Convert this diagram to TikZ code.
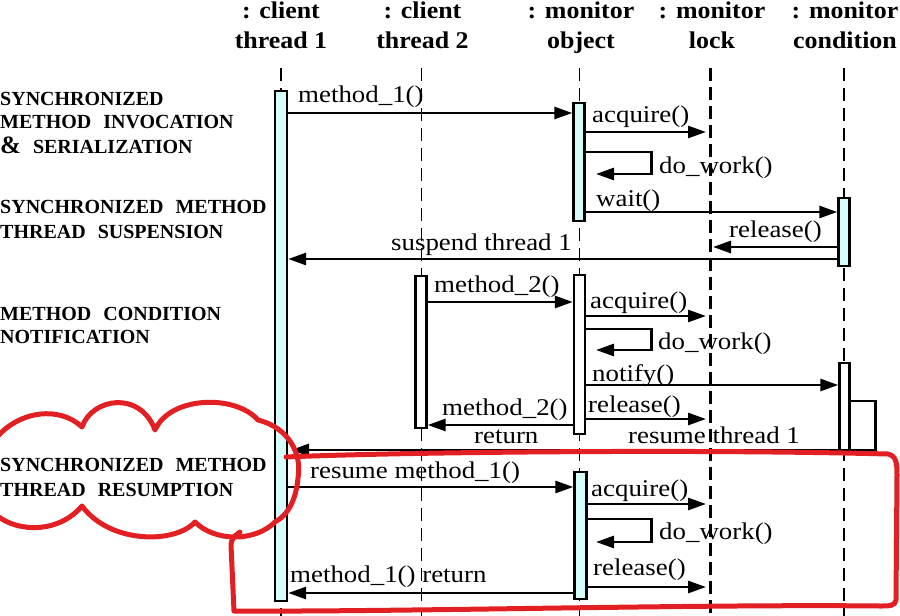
\documentclass[tikz,border=0pt]{standalone}
\usepackage{fontspec}
\setmainfont{Liberation Serif}
\newfontfamily\msgfont{Liberation Serif}[FakeStretch=1.12]
\newfontfamily\hdrfont{Liberation Serif}[FakeStretch=1.08]
\usepackage{tikz}
\usetikzlibrary{arrows.meta}

\definecolor{actcyan}{RGB}{214,252,252}
\definecolor{penred}{RGB}{226,32,36}
\newcommand\wsp{\hspace{12pt}}

\tikzset{
  hdr/.style={font=\hdrfont\bfseries\fontsize{24}{28}\selectfont, anchor=base, inner sep=0pt},
  lbl/.style={font=\bfseries\fontsize{20}{24}\selectfont, anchor=base west, inner sep=0pt},
  msglbl/.style={font=\msgfont\fontsize{24}{28}\selectfont, anchor=base west, inner sep=0pt},
  life/.style={line width=1.5pt, dash pattern=on 13pt off 7pt},
  lifebold/.style={line width=3pt, dash pattern=on 13pt off 6pt},
  act/.style={draw, line width=2.4pt, fill=actcyan, inner sep=0pt, anchor=north},
  actw/.style={act, fill=white},
  msg/.style={line width=2.8pt, -{Triangle[length=18pt,width=12pt]}},
  pen/.style={penred, line width=5pt, line cap=round, line join=round},
}

\begin{document}
\begin{tikzpicture}[x=1pt,y=-1pt]
  \useasboundingbox (0,0) rectangle (900,616);

  \foreach \n/\x/\top/\bot in {t1/281/client/thread 1, t2/422.5/client/thread 2,
      obj/581/monitor/object, lock/712/monitor/lock, cond/845/monitor/condition} {
    \node[hdr] (h\n) at (\x,18.5) {: \top};
    \node[hdr] (h\n b) at (\x,48) {\bot};
  }

  \node[lbl] (l1a) at (0,105) {SYNCHRONIZED};
  \node[lbl] (l1b) at (0,128.5) {METHOD\wsp INVOCATION};
  \node[lbl] (l1c) at (0,153.5) {{\fontsize{25}{24}\selectfont\&}\wsp SERIALIZATION};
  \node[lbl] (l2a) at (0,213.5) {SYNCHRONIZED\wsp METHOD};
  \node[lbl] (l2b) at (0,238.5) {THREAD\wsp SUSPENSION};
  \node[lbl] (l3a) at (0,320) {METHOD\wsp CONDITION};
  \node[lbl] (l3b) at (0,343.5) {NOTIFICATION};
  \node[lbl] (l4a) at (0,471) {SYNCHRONIZED\wsp METHOD};
  \node[lbl] (l4b) at (0,496) {THREAD\wsp RESUMPTION};

  \foreach \n/\x in {t1/281, t2/421.5, obj/579.5, cond/844}
    \draw[life] (\x,68) coordinate (ll\n) -- (\x,616);
  \draw[lifebold] (710.5,68) coordinate (lllock) -- (710.5,616);

  \coordinate (lk) at (706,0);
  \coordinate (lkr) at (713,0);
  \coordinate (wk) at (596,0);
  \coordinate (rt) at (291,0);

  \node[act, minimum width=12pt, minimum height=510pt] (t1a) at (281,90) {};
  \node[act, minimum width=11pt, minimum height=118pt] (obja) at (579,102) {};
  \node[act, minimum width=11pt, minimum height=68pt] (conda) at (844,197) {};
  \node[actw, minimum width=11pt, minimum height=152pt] (t2a) at (421,275) {};
  \node[actw, minimum width=11pt, minimum height=159pt] (objb) at (579.5,274) {};
  \node[actw, minimum width=10pt, minimum height=88pt] (condb) at (844.5,362) {};
  \node[act, minimum width=12pt, minimum height=127pt] (objc) at (580.5,471) {};

  \draw[msg] (t1a.east |- 0,113) -- (obja.west |- 0,113);
  \node[msglbl] (m1) at (298,102) {method\_1()};
  \draw[msg] (obja.east |- 0,132) -- (lk |- 0,132);
  \node[msglbl] (acq1) at (592,122) {acquire()};
  \draw[msg] (obja.east |- 0,152) -- ++(66,0) -- ++(0,22) -- (wk |- 0,174);
  \node[msglbl] (wrk1) at (659,173) {do\_work()};
  \draw[msg] (obja.east |- 0,212) -- (conda.west |- 0,212);
  \node[msglbl] (wt) at (596,206) {wait()};
  \draw[msg] (conda.west |- 0,247) -- (lkr |- 0,247);
  \node[msglbl] (rel1) at (729,237) {release()};
  \draw[msg] (conda.west |- 0,259) -- (t1a.east |- 0,259);
  \node[msglbl, anchor=base east] (susp) at (572,250) {suspend thread 1};

  \draw[msg] (t2a.east |- 0,302) -- (objb.west |- 0,302);
  \node[msglbl] (m2) at (434,292) {method\_2()};
  \draw[msg] (objb.east |- 0,316) -- (lk |- 0,316);
  \node[msglbl] (acq2) at (590,308) {acquire()};
  \draw[msg] (objb.east |- 0,329) -- ++(65.5,0) -- ++(0,21) -- (wk |- 0,350);
  \node[msglbl] (wrk2) at (658,349) {do\_work()};
  \draw[msg] (objb.east |- 0,385) -- (condb.west |- 0,385);
  \node[msglbl] (ntf) at (592,381) {notify()};
  \draw[msg] (objb.east |- 0,419) -- (lk |- 0,419);
  \node[msglbl] (rel2) at (588,412.5) {release()};
  \draw[msg] (objb.west |- 0,425) -- (t2a.east |- 0,425);
  \node[msglbl] (m2r) at (442,415) {method\_2()};
  \node[msglbl] (m2rb) at (474,443) {return};
  \draw[msg] (condb.east |- 0,401) -- ++(25,0) -- ++(0,49) -- (rt |- 0,450);
  \node[msglbl] (rsm) at (628,443) {resume thread 1};

  \draw[msg] (t1a.east |- 0,487) -- (objc.west |- 0,487);
  \node[msglbl] (m1b) at (310,478) {resume method\_1()};
  \draw[msg] (objc.east |- 0,504) -- (lk |- 0,504);
  \node[msglbl] (acq3) at (591,496) {acquire()};
  \draw[msg] (objc.east |- 0,519) -- ++(63.5,0) -- ++(0,23) -- (wk |- 0,542);
  \node[msglbl] (wrk3) at (659,539) {do\_work()};
  \draw[msg] (objc.east |- 0,587) -- (lk |- 0,587);
  \node[msglbl] (rel3) at (593,575) {release()};
  \draw[msg] (objc.west |- 0,593) -- (t1a.east |- 0,593);
  \node[msglbl] (m1r) at (290,582) {method\_1() return};

  \draw[pen] (-4,438) .. controls (20,410) and (60,406) .. (82,427)
    .. controls (92,398) and (140,390) .. (155,430)
    .. controls (170,396) and (235,394) .. (258,420)
    .. controls (290,428) and (302,455) .. (298,478)
    .. controls (296,500) and (288,515) .. (275,522)
    .. controls (255,542) and (215,542) .. (195,522)
    .. controls (175,544) and (110,544) .. (82,506)
    .. controls (60,532) and (20,534) .. (-4,515);
  \draw[pen] (286,457) .. controls (400,452) and (700,449) .. (888,454)
    .. controls (896,456) and (897,462) .. (897,475) -- (896,600)
    .. controls (895,606) and (890,606) .. (880,606)
    .. controls (700,604) and (400,612) .. (234,611) -- (231,545)
    .. controls (231,540) and (234,536) .. (240,532);
\end{tikzpicture}
\end{document}
